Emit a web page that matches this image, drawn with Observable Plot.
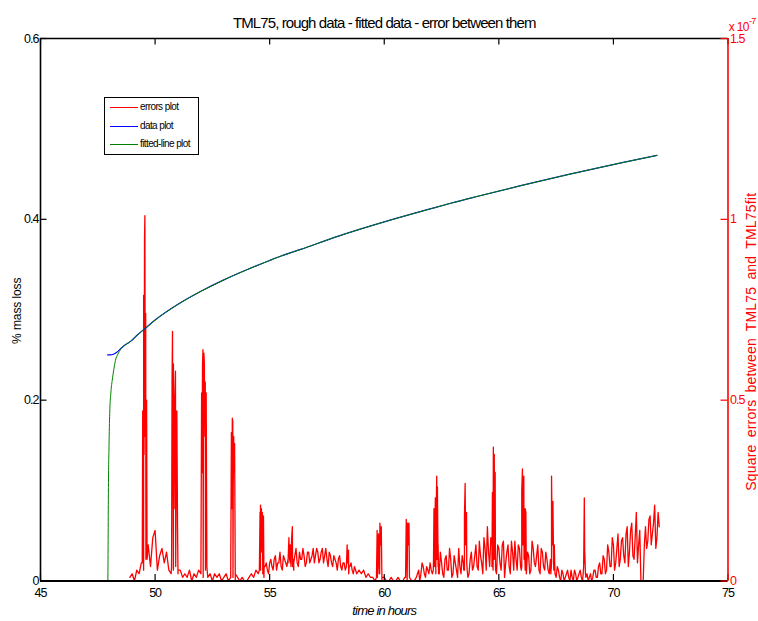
<!DOCTYPE html>
<html><head><meta charset="utf-8">
<script src="https://cdn.jsdelivr.net/npm/d3@7"></script>
<script src="https://cdn.jsdelivr.net/npm/@observablehq/plot@0.6"></script>
<style>
html,body{margin:0;padding:0;background:#fff;}
#wrap{position:relative;width:758px;height:621px;overflow:hidden;background:#fff;}
#wrap svg text{letter-spacing:-1px;}
#legend{position:absolute;left:104px;top:97px;width:93px;height:56px;border:1px solid #000;background:#fff;font-family:"Liberation Sans",Arial,sans-serif;font-size:10px;letter-spacing:-0.6px;color:#000;}
.row{position:absolute;left:0;height:12px;width:93px;}
.row .sw{position:absolute;left:5px;width:28px;height:0;border-top:1px solid;top:6px;}
.row .lb{position:absolute;left:35px;top:0;line-height:12px;white-space:nowrap;}
</style></head>
<body><div id="wrap"></div>
<script>
// ---- data ----
const titleText = "TML75, rough data - fitted data - error between them";
const xLabel = "time in hours";
const yLeftLabel = "% mass loss";
const yRightLabel = "Square errors between TML75 and TML75fit";
const legendNames = ["errors plot", "data plot", "fitted-line plot"];
const legendColors = ["#ff0000", "#0000ff", "#008000"];

const xTicks = [45, 50, 55, 60, 65, 70, 75];
const yLeftTicks = [0, 0.2, 0.4, 0.6];
const yRightTicks = [0, 0.5, 1, 1.5];   // x 10^-7

// squared error (units of 1e-7), sampled every 0.1 h from 48.9 h
const errStep = 0.1;
const errStart = 48.9;
const errValues = [
  0.01,
  0.02,0.0,0.03,0.02,0.05,0.03,0.06,0.1,0.04,0.12,
  0.14,0.03,0.07,0.09,0.05,0.08,0.03,0.02,0.03,0.04,
  0.02,0.03,0.01,0.02,0.01,0.03,0.0,0.02,0.01,0.03,
  0.02,0.01,0.03,0.01,0.02,0.0,0.02,0.01,0.02,0.0,
  0.01,0.02,0.0,0.01,0.01,0.0,0.01,0.0,0.01,0.0,
  0.0,0.01,0.02,0.01,0.03,0.02,0.03,0.02,0.04,0.03,
  0.05,0.04,0.06,0.03,0.05,0.04,0.07,0.05,0.06,0.05,
  0.04,0.07,0.05,0.08,0.06,0.07,0.05,0.08,0.06,0.09,
  0.07,0.08,0.06,0.09,0.07,0.06,0.08,0.05,0.07,0.05,
  0.06,0.04,0.05,0.03,0.05,0.04,0.03,0.04,0.02,0.03,
  0.02,0.03,0.01,0.02,0.01,0.01,0.0,0.01,0.02,0.0,
  0.01,0.0,0.0,0.01,0.0,0.0,0.01,0.0,0.0,0.01,
  0.0,0.01,0.0,0.0,0.01,0.03,0.02,0.04,0.01,0.03,
  0.05,0.02,0.04,0.06,0.02,0.05,0.01,0.07,0.03,0.06,
  0.02,0.05,0.01,0.04,0.07,0.03,0.05,0.02,0.08,0.04,
  0.1,0.03,0.07,0.02,0.09,0.15,0.04,0.1,0.06,0.02,
  0.09,0.03,0.11,0.05,0.1,0.02,0.08,0.11,0.03,0.09,
  0.04,0.06,0.02,0.07,0.03,0.09,0.04,0.1,0.02,0.08,
  0.03,0.06,0.02,0.05,0.03,0.01,0.03,0.0,0.02,0.01,
  0.03,0.0,0.01,0.03,0.0,0.02,0.01,0.04,0.01,0.0,
  0.02,0.01,0.03,0.01,0.05,0.02,0.06,0.03,0.08,0.04,
  0.1,0.05,0.13,0.06,0.12,0.05,0.15,0.08,0.16,0.06,
  0.19,0.1,0.0,0.0,0.15,0.11,0.18,0.13,0.21,0.12,
  0.15
];
// extra in-between samples (x.x5 h) in the dense noisy stretches
const midStartA = 54.75;
const midValuesA = [
  0.01,0.05,0.02,0.06,0.03,0.07,0.05,0.08,0.03,0.06,
  0.04,0.08,0.1,0.03,0.09,0.04,0.06,0.09,0.04,0.08,
  0.05,0.07,0.05,0.09,0.05,0.08,0.05,0.09,0.04,0.07,
  0.04,0.06,0.03,0.07,0.03,0.05,0.04,0.02,0.05,0.02
];
const midStartB = 61.45;
const midValuesB = [
  0.02,0.0,0.05,0.02,0.04,0.02,
  0.03,0.06,0.02,0.04,0.08,0.02,0.06,0.03,0.09,0.01,
  0.07,0.03,0.09,0.02,0.05,0.1,0.01,0.06,0.03,0.07,
  0.04,0.11,0.05,0.12,0.03,0.08,0.12,0.03,0.08,0.1,
  0.05,0.1,0.01,0.08,0.04,0.11,0.03,0.06,0.1,0.04,
  0.1,0.03,0.08,0.02,0.11,0.05,0.07,0.03,0.09,0.04,
  0.08,0.03,0.06,0.1,0.02,0.04,0.01,0.03,0.0,0.02,
  0.01,0.03,0.0,0.02,0.01,0.03,0.0,0.05,0.02,0.01,
  0.0,0.03,0.01,0.04,0.02,0.07,0.02,0.1,0.04,0.12,
  0.03,0.09,0.04,0.11,0.07,0.13,0.04,0.14,0.07,0.12,
  0.05,0.14,0.0,0.1,0.09,0.17,0.1,0.16,0.09,0.19
];

// error spikes read at finer time resolution
const spikeTimes = [
  49.44,49.46,49.48,49.5,49.52,49.54,49.555,49.57,49.59,49.61,49.63,49.65,
  50.72,50.74,50.76,50.78,50.8,50.83,50.86,50.89,50.92,50.95,50.98,51.0,
  52.0,52.03,52.05,52.07,52.09,52.11,52.13,52.15,52.17,52.19,52.21,52.23,52.26,
  53.3,53.33,53.35,53.37,53.39,53.41,53.43,53.45,53.47,53.5,
  54.55,54.58,54.6,54.62,54.64,54.66,54.68,54.7,54.73,54.76,
  55.8,55.84,55.87,55.9,55.93,55.96,55.99,56.02,56.05,
  58.35,58.38,58.41,58.44,58.47,
  59.66,59.69,59.72,59.75,59.78,59.81,59.84,59.87,59.9,
  60.93,60.96,60.99,61.02,61.05,61.08,61.1,
  62.14,62.17,62.2,62.23,62.26,62.29,62.32,62.35,62.37,
  63.47,63.5,63.53,63.56,63.59,63.62,
  64.7,64.72,64.74,64.76,64.78,64.8,64.82,64.84,64.86,
  65.98,66.0,66.03,66.06,66.09,66.12,66.15,66.18,66.21,
  67.27,67.3,67.33,67.36,67.39,67.42,67.45,
  68.68,68.71,68.73,68.75,68.78
];
const spikeValues = [
  0.05,0.47,0.2,0.79,0.35,0.95,1.01,0.4,0.74,0.3,0.5,0.06,
  0.04,0.55,0.69,0.3,0.6,0.2,0.5,0.58,0.25,0.47,0.15,0.03,
  0.03,0.52,0.3,0.6,0.64,0.45,0.63,0.6,0.4,0.55,0.3,0.52,0.04,
  0.02,0.41,0.2,0.45,0.44,0.25,0.4,0.3,0.38,0.02,
  0.03,0.19,0.21,0.1,0.2,0.08,0.19,0.12,0.18,0.04,
  0.05,0.12,0.06,0.1,0.04,0.12,0.15,0.06,0.05,
  0.04,0.1,0.05,0.085,0.04,
  0.01,0.14,0.05,0.13,0.02,0.16,0.1,0.15,0.01,
  0.01,0.17,0.05,0.16,0.1,0.16,0.01,
  0.03,0.2,0.1,0.23,0.15,0.29,0.26,0.1,0.02,
  0.03,0.18,0.27,0.1,0.19,0.03,
  0.04,0.245,0.1,0.37,0.2,0.35,0.15,0.3,0.03,
  0.03,0.25,0.31,0.12,0.29,0.1,0.2,0.19,0.03,
  0.02,0.29,0.1,0.22,0.05,0.1,0.02,
  0.02,0.1,0.23,0.08,0.02
];

// % mass loss, measured data
const dataTimes = [47.93,48.0,48.1,48.2,48.3,48.4,48.5,48.7,48.93,49.2,49.55,50,51,52,53,54,55,55.5,56.35,58,60,62,62.9,64,66,68,70.33,71.9];
const dataValues = [0.250,0.250,0.2502,0.251,0.2525,0.2545,0.257,0.2612,0.265,0.2715,0.279,0.2886,0.306,0.3204,0.333,0.3442,0.3545,0.3594,0.3667,0.3815,0.3972,0.4115,0.4178,0.425,0.4375,0.4494,0.4624,0.4707];

// % mass loss, fitted line
const fitTimes = [47.94,47.95,47.96,47.99,48.02,48.07,48.13,48.2,48.27,48.38,48.49,48.7,48.93,49.2,49.55,50,51,52,53,54,55,55.5,56.35,58,60,62,62.9,64,66,68,70.33,71.9];
const fitValues = [0,0.04,0.09,0.15,0.185,0.208,0.222,0.234,0.244,0.251,0.256,0.2612,0.265,0.2715,0.279,0.2886,0.306,0.3204,0.333,0.3442,0.3545,0.3594,0.3667,0.3815,0.3972,0.4115,0.4178,0.425,0.4375,0.4494,0.4624,0.4707];

// ---- build ----
const W = 758, H = 621, mL = 40, mR = 30.5, mT = 38, mB = 40.5;
const frameW = W - mL - mR, frameH = H - mT - mB;
const SCALE = yLeftTicks[yLeftTicks.length - 1] / yRightTicks[yRightTicks.length - 1];
const RED = "#ff0000";

const gridRows = (start, vals) => vals.map((v, i) => ({t: +(start + i * errStep).toFixed(3), v}));
const errRows = [
  ...gridRows(errStart, errValues),
  ...gridRows(midStartA, midValuesA),
  ...gridRows(midStartB, midValuesB),
  ...spikeTimes.map((t, i) => ({t, v: spikeValues[i]}))
].sort((a, b) => a.t - b.t);
const dataRows = dataTimes.map((t, i) => ({t, v: dataValues[i]}));
const fitRows = fitTimes.map((t, i) => ({t, v: fitValues[i]}));

const chart = Plot.plot({
  width: W, height: H,
  marginLeft: mL, marginRight: mR, marginTop: mT, marginBottom: mB,
  style: {fontFamily: '"Liberation Sans", Arial, sans-serif', fontSize: "12.5px", background: "#fff", color: "#000", overflow: "visible"},
  x: {domain: [45, 75]},
  y: {domain: [0, 0.6]},
  marks: [
    Plot.line(errRows, {x: "t", y: d => d.v * SCALE, stroke: RED, strokeWidth: 1.3}),
    Plot.line(dataRows, {x: "t", y: "v", stroke: legendColors[1], strokeWidth: 1.2, curve: "monotone-x"}),
    Plot.line(fitRows, {x: "t", y: "v", stroke: legendColors[2], strokeWidth: 1, curve: "monotone-x"}),
    // inward ticks
    Plot.ruleX(xTicks, {stroke: "#000", strokeWidth: 1.2, insetTop: frameH - 6.5}),
    Plot.ruleX(xTicks, {stroke: "#000", strokeWidth: 1.2, insetBottom: frameH - 6.5}),
    Plot.ruleY(yLeftTicks, {stroke: "#000", strokeWidth: 1.2, insetRight: frameW - 6.5}),
    // box
    Plot.ruleY([yLeftTicks[0]], {stroke: "#000", strokeWidth: 1.8}),
    Plot.ruleY([yLeftTicks[yLeftTicks.length - 1]], {stroke: "#000", strokeWidth: 1.4}),
    Plot.ruleX([xTicks[0]], {stroke: "#000", strokeWidth: 1.6}),
    Plot.ruleX([xTicks[xTicks.length - 1]], {stroke: RED, strokeWidth: 1.6}),
    Plot.ruleY(yRightTicks.map(v => v * SCALE), {stroke: RED, strokeWidth: 1.2, insetLeft: frameW - 7}),
    // tick labels
    Plot.axisX(xTicks, {tickSize: 0, tickPadding: 7, label: null, fill: "#000", tickFormat: d => String(d)}),
    Plot.axisY(yLeftTicks, {anchor: "left", tickSize: 0, tickPadding: 2, label: null, fill: "#000", tickFormat: d => String(d)}),
    Plot.axisY(yRightTicks.map(v => v * SCALE), {anchor: "right", tickSize: 0, tickPadding: 2, label: null, fill: RED,
      tickFormat: d => String(+(d / SCALE).toFixed(2))}),
    // texts
    Plot.text([titleText], {frameAnchor: "top", dy: -11, textAnchor: "middle", lineAnchor: "bottom", fontSize: 15, fill: "#000"}),
    Plot.text([xLabel], {frameAnchor: "bottom", dy: 34, textAnchor: "middle", lineAnchor: "bottom", fontSize: 13, fontStyle: "italic", fill: "#000"}),
    Plot.text([yLeftLabel], {frameAnchor: "left", dx: -20, dy: 1, rotate: -90, textAnchor: "middle", lineAnchor: "bottom", fontSize: 12, fill: "#000"}),
    Plot.text([yRightLabel], {frameAnchor: "right", dx: 27.5, dy: 32, rotate: -90, textAnchor: "middle", lineAnchor: "bottom", fontSize: 14, fill: RED}),
    Plot.text(["x 10"], {frameAnchor: "top-right", dx: 0.8, dy: -7.5, textAnchor: "start", lineAnchor: "bottom", fontSize: 12, fill: RED}),
    Plot.text(["-7"], {frameAnchor: "top-right", dx: 21, dy: -14.5, textAnchor: "start", lineAnchor: "bottom", fontSize: 9, fill: RED})
  ]
});

const wrap = document.getElementById("wrap");
wrap.appendChild(chart);

d3.select(chart).selectAll("text").each(function() {
  const s = d3.select(this), t = this.textContent;
  if (t === titleText) s.style("letter-spacing", "-0.9px");
  else if (t === xLabel) s.style("letter-spacing", "-0.8px");
  else if (t === yLeftLabel) s.style("letter-spacing", "-0.1px");
  else if (t === yRightLabel) s.style("letter-spacing", "0.2px").style("word-spacing", "3px");
  else if (t === "x 10" || t === "-7") s.style("letter-spacing", "-0.7px");
});

// legend
const legend = document.createElement("div");
legend.id = "legend";
const rowTops = [3.3, 22, 40.3];
legendNames.forEach((name, i) => {
  const row = document.createElement("div");
  row.className = "row";
  row.style.top = rowTops[i] + "px";
  const sw = document.createElement("div");
  sw.className = "sw";
  sw.style.borderTopColor = legendColors[i];
  const lb = document.createElement("div");
  lb.className = "lb";
  lb.textContent = name;
  row.appendChild(sw); row.appendChild(lb);
  legend.appendChild(row);
});
wrap.appendChild(legend);
</script>
</body></html>
